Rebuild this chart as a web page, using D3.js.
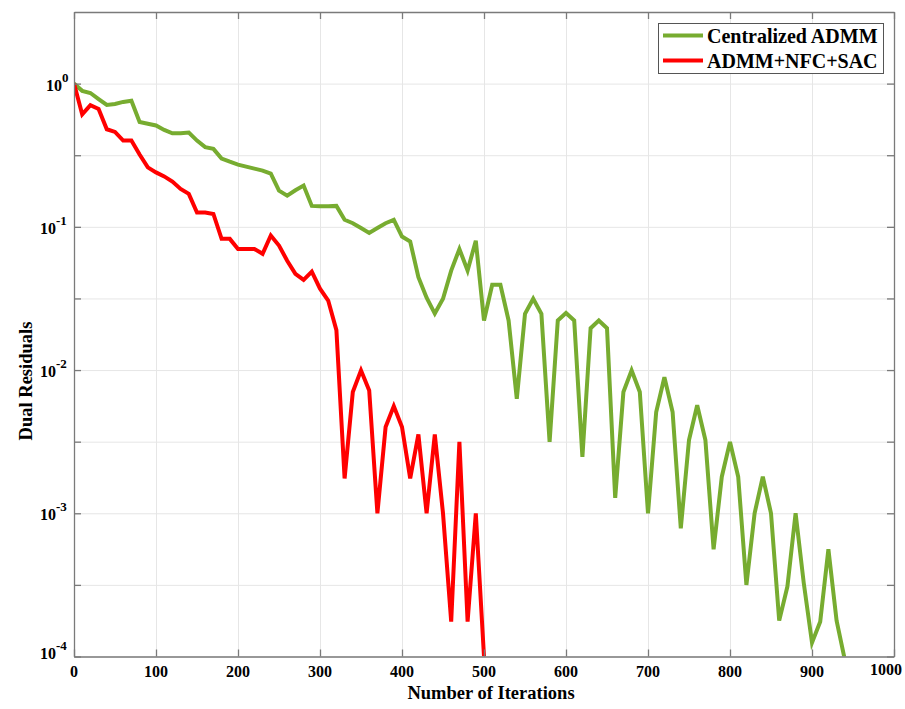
<!DOCTYPE html>
<html>
<head>
<meta charset="utf-8">
<script src="https://cdn.jsdelivr.net/npm/d3@7"></script>
<style>
  html, body { margin: 0; padding: 0; background: #fff; }
  svg text { font-family: "Liberation Serif", "Times New Roman", serif; font-weight: bold; fill: #000; }
</style>
</head>
<body>
<svg id="chart" width="905" height="709"></svg>
<script>
// Iteration counts (sampled every 10 iterations)
const iterCentral = [0,10,20,30,40,50,60,70,80,90,100,110,120,130,140,150,160,170,180,190,
  200,210,220,230,240,250,260,270,280,290,300,310,320,330,340,350,360,370,380,390,
  400,410,420,430,440,450,460,470,480,490,500,510,520,530,540,550,560,570,580,590,
  600,610,620,630,640,650,660,670,680,690,700,710,720,730,740,750,760,770,780,790,
  800,810,820,830,840,850,860,870,880,890,900,910,920,930,940];
const residCentral = [1.0,0.89,0.86,0.78,0.71,0.72,0.745,0.76,0.54,0.525,0.51,0.475,0.45,0.45,0.455,0.40,0.36,0.35,0.30,0.285,
  0.272,0.263,0.255,0.247,0.235,0.179,0.165,0.18,0.194,0.14,0.139,0.139,0.14,0.112,0.106,0.098,0.0906,0.098,0.106,0.112,
  0.0855,0.079,0.0445,0.032,0.0248,0.0315,0.0495,0.070,0.0495,0.080,0.0222,0.0394,0.0394,0.0222,0.0063,0.0247,0.0315,0.0247,0.00315,0.0222,
  0.025,0.0222,0.00248,0.0196,0.0222,0.0196,0.00128,0.00703,0.00995,0.00703,0.001,0.0051,0.0089,0.0051,0.000785,0.00324,0.00568,0.00324,0.00056,0.0018,
  0.00315,0.0018,0.000316,0.001,0.0018,0.001,0.000178,0.000308,0.001,0.000324,0.000125,0.000175,0.00056,0.000178,0.000095];

const iterProposed = [0,10,20,30,40,50,60,70,80,90,100,110,120,130,140,150,160,170,180,190,
  200,210,220,230,240,250,260,270,280,290,300,310,320,330,340,350,360,370,380,390,
  400,410,420,430,440,450,460,470,480,490,500];
const residProposed = [1.0,0.61,0.707,0.666,0.48,0.46,0.40,0.40,0.32,0.26,0.24,0.225,0.207,0.184,0.17,0.126,0.126,0.123,0.0824,0.0824,
  0.070,0.070,0.070,0.0648,0.087,0.074,0.058,0.047,0.0426,0.0487,0.037,0.0306,0.019,0.00175,0.00703,0.00995,0.0072,0.001,0.004,0.0056,
  0.004,0.00175,0.00355,0.001,0.00355,0.001,0.000175,0.00315,0.000175,0.001,0.0001];

const seriesNames = ["Centralized ADMM", "ADMM+NFC+SAC"];
const seriesColors = ["#77AC30", "#FF0000"];
const xTicks = [0,100,200,300,400,500,600,700,800,900,1000];
const yExponents = [0,-1,-2,-3,-4];
const yHalfDecades = [0,-0.5,-1,-1.5,-2,-2.5,-3,-3.5,-4];

const svg = d3.select("#chart");
const plotLeft = 74, plotRight = 894, plotTop = 12, plotBottom = 656.5;

const x = d3.scaleLinear().domain([0, 1000]).range([plotLeft, plotRight]);
const y = d3.scaleLog().domain([1e-4, Math.pow(10, 0.5)]).range([plotBottom, plotTop]);

const yTickVals = yHalfDecades.map(e => Math.pow(10, e));

// grid
const grid = svg.append("g");
grid.append("g").attr("transform", `translate(0,${plotBottom})`)
  .call(d3.axisBottom(x).tickValues(xTicks.slice(1, -1)).tickSize(-(plotBottom - plotTop)).tickFormat(""))
  .call(g => g.select(".domain").remove())
  .call(g => g.selectAll("line").attr("stroke", "#e6e6e6").attr("stroke-width", 1));
grid.append("g").attr("transform", `translate(${plotLeft},0)`)
  .call(d3.axisLeft(y).tickValues(yTickVals).tickSize(-(plotRight - plotLeft)).tickFormat(""))
  .call(g => g.select(".domain").remove())
  .call(g => g.selectAll("line").attr("stroke", "#e6e6e6").attr("stroke-width", 1));

// data lines, clipped to the plot box
svg.append("defs").append("clipPath").attr("id", "plotClip")
  .append("rect").attr("x", plotLeft).attr("y", plotTop)
  .attr("width", plotRight - plotLeft).attr("height", plotBottom - plotTop);

const line = d3.line().x(d => x(d[0])).y(d => y(d[1]));
const plot = svg.append("g").attr("clip-path", "url(#plotClip)");
const seriesData = [
  d3.zip(iterCentral, residCentral),
  d3.zip(iterProposed, residProposed)
];
seriesData.forEach((data, i) => {
  plot.append("path").datum(data)
    .attr("fill", "none")
    .attr("stroke", seriesColors[i])
    .attr("stroke-width", 4)
    .attr("stroke-linejoin", "miter")
    .attr("d", line);
});

// axes box with inward ticks on all sides
const axisColor = "#7a7a7a";
const styleAxis = g => {
  g.select(".domain").attr("stroke", axisColor).attr("stroke-width", 1.3);
  g.selectAll(".tick line").attr("stroke", axisColor).attr("stroke-width", 1.3);
  g.selectAll(".tick text").remove();
};
svg.append("g").attr("transform", `translate(0,${plotBottom})`)
  .call(d3.axisBottom(x).tickValues(xTicks).tickSize(-7).tickSizeOuter(0)).call(styleAxis);
svg.append("g").attr("transform", `translate(0,${plotTop})`)
  .call(d3.axisTop(x).tickValues(xTicks).tickSize(-7).tickSizeOuter(0)).call(styleAxis);
svg.append("g").attr("transform", `translate(${plotLeft},0)`)
  .call(d3.axisLeft(y).tickValues(yTickVals).tickSize(-7).tickSizeOuter(0)).call(styleAxis);
svg.append("g").attr("transform", `translate(${plotRight},0)`)
  .call(d3.axisRight(y).tickValues(yTickVals).tickSize(-7).tickSizeOuter(0)).call(styleAxis);

// x tick labels (the last one is pulled in so it stays inside the page)
svg.append("g").selectAll("text").data(xTicks).join("text")
  .attr("x", d => d === 1000 ? x(d) - 8 : x(d)).attr("y", d => d === 1000 ? 675 : 677)
  .attr("text-anchor", "middle").attr("font-size", 16)
  .text(d => d);

// y tick labels: 10 with superscript exponent
const yl = svg.append("g").selectAll("text").data(yExponents).join("text")
  .attr("x", d => d === 0 ? 62 : 56)
  .attr("y", d => y(Math.pow(10, d)) + (d === -4 ? 2 : 7))
  .attr("text-anchor", "end").attr("font-size", 16);
yl.append("tspan").text("10");
yl.append("tspan")
  .attr("x", d => d === 0 ? 62 : 56)
  .attr("dy", -9)
  .attr("text-anchor", "start")
  .attr("font-size", 13)
  .text(d => d === 0 ? "0" : "-" + Math.abs(d));

// axis titles
svg.append("text").attr("x", (plotLeft + plotRight) / 2 + 7).attr("y", 699)
  .attr("text-anchor", "middle").attr("font-size", 18.5)
  .text("Number of Iterations");
svg.append("text").attr("transform", "translate(32,381) rotate(-90)")
  .attr("text-anchor", "middle").attr("font-size", 18.5)
  .text("Dual Residuals");

// legend
const lg = svg.append("g");
lg.append("rect").attr("x", 658.5).attr("y", 23.5).attr("width", 225).attr("height", 50)
  .attr("fill", "#fff").attr("stroke", "#555").attr("stroke-width", 1);
seriesNames.forEach((name, i) => {
  const ly = 35.5 + i * 25;
  lg.append("line").attr("x1", 663).attr("x2", 703).attr("y1", ly).attr("y2", ly)
    .attr("stroke", seriesColors[i]).attr("stroke-width", 4);
  lg.append("text").attr("x", 707).attr("y", ly + 7).attr("font-size", 20).text(name);
});
</script>
</body>
</html>
